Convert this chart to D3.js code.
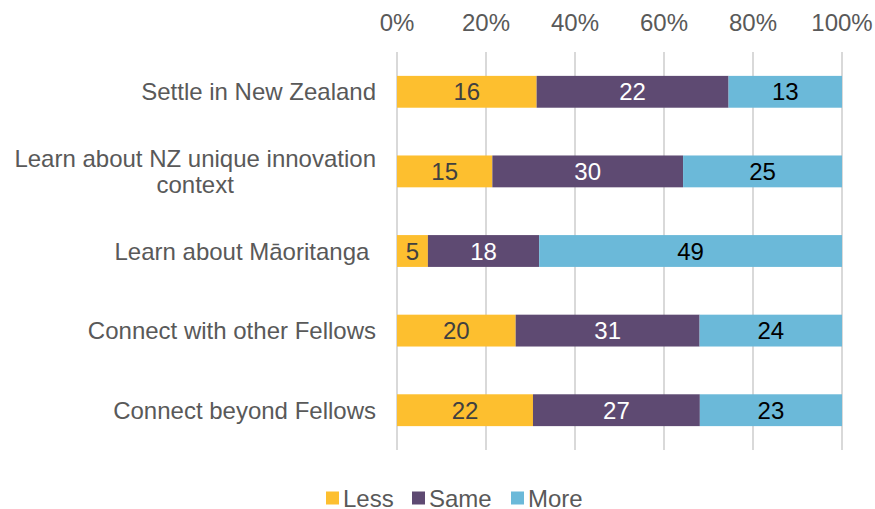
<!DOCTYPE html>
<html>
<head>
<meta charset="utf-8">
<script src="https://cdn.jsdelivr.net/npm/d3@7"></script>
<style>
  body { margin: 0; background: #fff; }
  text { font-family: "Liberation Sans", Arial, sans-serif; }
</style>
</head>
<body>
<div id="chart"></div>
<script>
const categories = [
  ["Settle in New Zealand"],
  ["Learn about NZ unique innovation", "context"],
  ["Learn about Māoritanga "],
  ["Connect with other Fellows"],
  ["Connect beyond Fellows"]
];
const seriesNames = ["Less", "Same", "More"];
const less = [16, 15, 5, 20, 22];
const same = [22, 30, 18, 31, 27];
const more = [13, 25, 49, 24, 23];
const tickLabels = ["0%", "20%", "40%", "60%", "80%", "100%"];

const colors = ["#FDBF2F", "#5E4A72", "#6BB9D9"];
const labelColors = ["#404040", "#ffffff", "#000000"];

const width = 875, height = 509;
const margin = { top: 52, right: 33, bottom: 59, left: 397 };
const fs = 24;

const svg = d3.select("#chart").append("svg")
  .attr("width", width)
  .attr("height", height);

const rows = categories.map((c, i) => ({ label: c, vals: [less[i], same[i], more[i]] }));

const x = d3.scaleLinear().domain([0, 1]).range([margin.left, width - margin.right]);
const y = d3.scaleBand().domain(d3.range(rows.length))
  .range([margin.top, height - margin.bottom]).paddingInner(0.6).paddingOuter(0.3);

// gridlines
svg.append("g").selectAll("line")
  .data(d3.range(0, 1.01, 0.2))
  .join("line")
  .attr("x1", d => x(d)).attr("x2", d => x(d))
  .attr("y1", margin.top).attr("y2", height - margin.bottom)
  .attr("stroke", "#d9d9d9").attr("stroke-width", 2);

// top tick labels
svg.append("g").selectAll("text")
  .data(tickLabels)
  .join("text")
  .attr("x", (d, i) => x(i * 0.2))
  .attr("y", 31)
  .attr("text-anchor", "middle")
  .attr("font-size", fs)
  .attr("fill", "#595959")
  .text(d => d);

// bars
const rowG = svg.append("g").selectAll("g")
  .data(rows)
  .join("g");

rowG.each(function(d, i) {
  const total = d3.sum(d.vals);
  let cum = 0;
  const segs = d.vals.map((v, k) => {
    const s = { k, v, x0: cum / total, x1: (cum + v) / total };
    cum += v;
    return s;
  });
  const g = d3.select(this);
  g.selectAll("rect").data(segs).join("rect")
    .attr("x", s => x(s.x0))
    .attr("width", s => x(s.x1) - x(s.x0))
    .attr("y", y(i))
    .attr("height", y.bandwidth())
    .attr("fill", s => colors[s.k]);
  g.selectAll("text.val").data(segs).join("text")
    .attr("class", "val")
    .attr("x", s => (x(s.x0) + x(s.x1)) / 2)
    .attr("y", y(i) + y.bandwidth() / 2)
    .attr("dy", "0.36em")
    .attr("text-anchor", "middle")
    .attr("font-size", fs)
    .attr("fill", s => labelColors[s.k])
    .text(s => s.v);

  // category label
  const lab = g.append("text")
    .attr("font-size", fs)
    .attr("fill", "#595959")
    .style("white-space", "pre");
  const lines = d.label;
  const cy = y(i) + y.bandwidth() / 2;
  const lh = 26;
  const right = 376;
  lines.forEach((t, j) => {
    lab.append("tspan")
      .attr("x", right)
      .attr("y", cy + (j - (lines.length - 1) / 2) * lh)
      .attr("dy", "0.36em")
      .text(t);
  });
  if (lines.length > 1) {
    const w = d3.max(lab.selectAll("tspan").nodes(), n => n.getComputedTextLength());
    lab.attr("text-anchor", "middle");
    lab.selectAll("tspan").attr("x", right - w / 2);
  } else {
    lab.attr("text-anchor", "end");
  }
});

// legend
const legendX = [326, 412, 511];
const leg = svg.append("g").selectAll("g")
  .data(seriesNames)
  .join("g")
  .attr("transform", (d, i) => `translate(${legendX[i]},498)`);
leg.append("rect")
  .attr("x", 0).attr("y", -6.5)
  .attr("width", 13).attr("height", 13)
  .attr("fill", (d, i) => colors[i]);
leg.append("text")
  .attr("x", 17).attr("y", 0).attr("dy", "0.36em")
  .attr("font-size", fs)
  .attr("fill", "#595959")
  .text(d => d);
</script>
</body>
</html>
